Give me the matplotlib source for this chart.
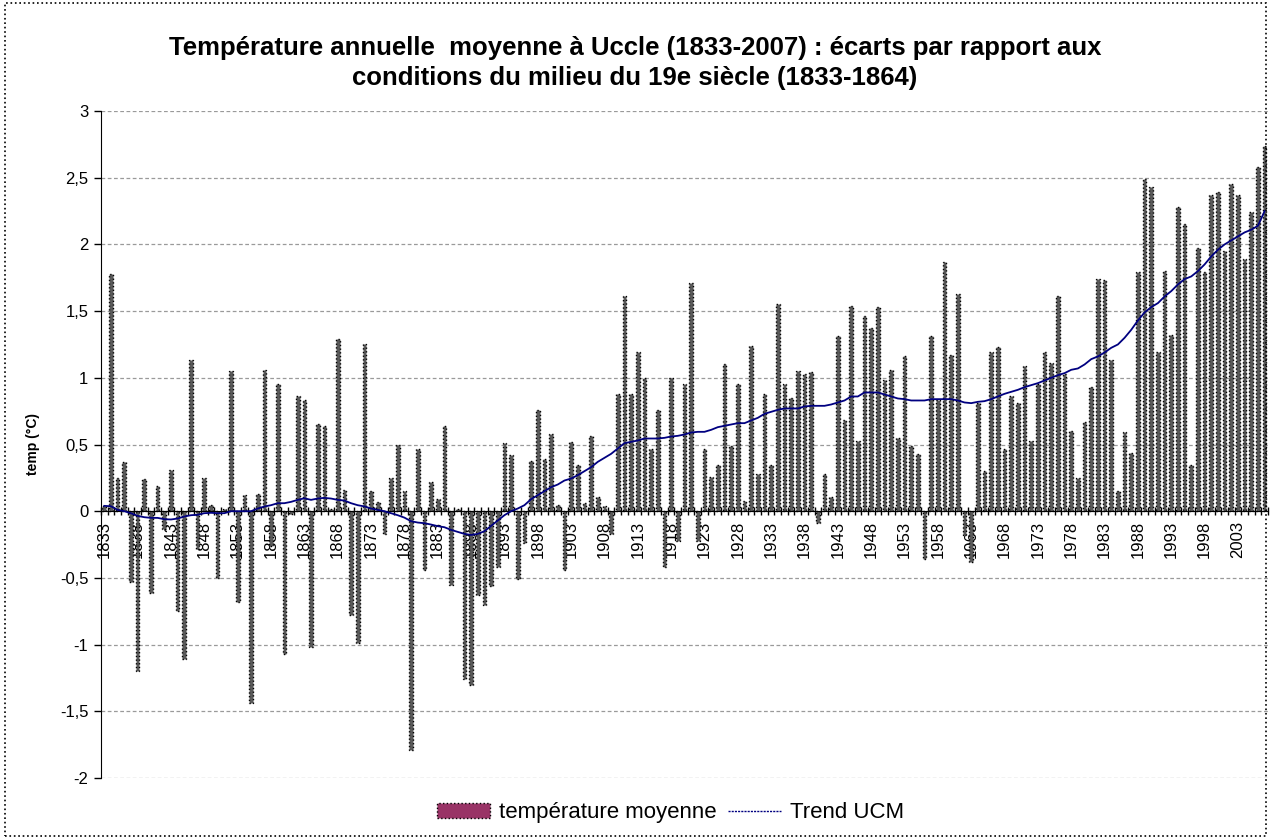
import numpy as np
import matplotlib
matplotlib.use("Agg")
import matplotlib.pyplot as plt
from matplotlib.patches import Rectangle, Patch
from matplotlib.lines import Line2D
from matplotlib.ticker import FuncFormatter

plt.rcParams["font.family"] = ["Liberation Sans", "DejaVu Sans"]

#Data (deviation in °C vs 1833-1864)
years = np.arange(1833, 2008)

temp_anomaly = [
    0.04, 1.78, 0.25, 0.37, -0.53, -1.20, 0.24, -0.61, 0.19, -0.13,   # 1833-1842
    0.31, -0.75, -1.11, 1.13, -0.28, 0.25, 0.05, -0.50, 0.02, 1.05,   # 1843-1852
    -0.68, 0.12, -1.44, 0.13, 1.06, -0.26, 0.95, -1.07, -0.02, 0.86,  # 1853-1862
    0.83, -1.02, 0.65, 0.64, 0.02, 1.29, 0.16, -0.78, -0.99, 1.25,    # 1863-1872
    0.15, 0.07, -0.17, 0.25, 0.50, 0.15, -1.79, 0.47, -0.44, 0.22,    # 1873-1882
    0.09, 0.64, -0.55, 0.02, -1.26, -1.30, -0.63, -0.70, -0.56, -0.42,  # 1883-1892
    0.51, 0.42, -0.51, -0.24, 0.38, 0.76, 0.39, 0.58, 0.05, -0.44,    # 1893-1902
    0.52, 0.35, 0.06, 0.56, 0.11, 0.04, -0.17, 0.88, 1.61, 0.88,      # 1903-1912
    1.19, 1.00, 0.47, 0.76, -0.42, 1.00, -0.22, 0.95, 1.71, -0.22,    # 1913-1922
    0.47, 0.26, 0.35, 1.10, 0.49, 0.95, 0.08, 1.24, 0.28, 0.88,       # 1923-1932
    0.35, 1.55, 0.95, 0.85, 1.05, 1.03, 1.04, -0.09, 0.28, 0.11,      # 1933-1942
    1.31, 0.68, 1.54, 0.53, 1.46, 1.37, 1.53, 0.98, 1.06, 0.55,       # 1943-1952
    1.16, 0.49, 0.43, -0.36, 1.31, 0.83, 1.87, 1.17, 1.63, -0.18,     # 1953-1962
    -0.38, 0.81, 0.30, 1.19, 1.23, 0.47, 0.86, 0.81, 1.09, 0.53,      # 1963-1972
    0.95, 1.19, 1.11, 1.61, 1.03, 0.60, 0.25, 0.67, 0.93, 1.74,       # 1973-1982
    1.73, 1.13, 0.15, 0.59, 0.44, 1.79, 2.49, 2.43, 1.19, 1.80,       # 1983-1992
    1.32, 2.28, 2.15, 0.35, 1.97, 1.79, 2.37, 2.39, 1.95, 2.45,       # 1993-2002
    2.37, 1.89, 2.24, 2.58, 2.74,                                     # 2003-2007
]

trend_ucm = [
    0.040, 0.037, 0.010, 0.000, -0.015, -0.035, -0.045, -0.050, -0.050, -0.060,
    -0.062, -0.055, -0.040, -0.030, -0.027, -0.015, -0.012, -0.015, -0.015, 0.000,
    0.000, 0.000, 0.000, 0.020, 0.035, 0.045, 0.060, 0.060, 0.070, 0.085,
    0.097, 0.085, 0.095, 0.100, 0.095, 0.085, 0.080, 0.060, 0.045, 0.036,
    0.020, 0.010, 0.000, -0.015, -0.030, -0.048, -0.075, -0.085, -0.090, -0.100,
    -0.112, -0.120, -0.140, -0.155, -0.170, -0.178, -0.170, -0.150, -0.110, -0.070,
    -0.030, 0.000, 0.020, 0.045, 0.090, 0.120, 0.150, 0.180, 0.200, 0.230,
    0.245, 0.270, 0.300, 0.330, 0.370, 0.400, 0.430, 0.470, 0.510, 0.520,
    0.530, 0.545, 0.545, 0.545, 0.550, 0.560, 0.565, 0.575, 0.590, 0.595,
    0.595, 0.610, 0.630, 0.640, 0.650, 0.660, 0.660, 0.680, 0.700, 0.730,
    0.745, 0.760, 0.770, 0.770, 0.770, 0.785, 0.790, 0.790, 0.790, 0.800,
    0.815, 0.830, 0.860, 0.860, 0.890, 0.890, 0.890, 0.875, 0.860, 0.845,
    0.840, 0.830, 0.830, 0.830, 0.840, 0.840, 0.840, 0.840, 0.830, 0.815,
    0.810, 0.820, 0.825, 0.840, 0.860, 0.880, 0.895, 0.910, 0.930, 0.945,
    0.960, 0.980, 1.000, 1.020, 1.035, 1.060, 1.070, 1.100, 1.140, 1.160,
    1.190, 1.225, 1.250, 1.300, 1.360, 1.430, 1.490, 1.530, 1.560, 1.610,
    1.650, 1.700, 1.740, 1.760, 1.800, 1.850, 1.910, 1.960, 2.000, 2.030,
    2.060, 2.090, 2.110, 2.140, 2.250,
]

label_years = list(range(1833, 2008, 5))
y_ticks = [-2, -1.5, -1, -0.5, 0, 0.5, 1, 1.5, 2, 2.5, 3]

title_text = ("Température annuelle  moyenne à Uccle (1833-2007) : écarts par rapport aux\n"
              "conditions du milieu du 19e siècle (1833-1864)")

fig = plt.figure(figsize=(12.7, 8.39), dpi=100)
ax = fig.add_axes([0.0795, 0.0727, 0.9189, 0.795])

#bars + trend
ax.bar(years, temp_anomaly, width=0.55, color="#5a5a5a", edgecolor="black",
       linewidth=1.0, linestyle=":", zorder=2)
ax.plot(years, trend_ucm, color="#000080", linewidth=1.3, zorder=3)

ax.set_xlim(1832.5, 2007.5)
ax.set_ylim(-2, 3)
ax.set_yticks(y_ticks)
ax.yaxis.set_major_formatter(FuncFormatter(lambda v, p: f"{v:g}".replace(".", ",")))
ax.grid(axis="y", color="#9a9a9a", linestyle=(0, (3, 2)), linewidth=0.9)
ax.set_axisbelow(True)

#category axis sits on zero
ax.spines["bottom"].set_position(("data", 0))
ax.spines["top"].set_visible(False)
ax.spines["right"].set_visible(False)

ax.set_xticks(label_years)
ax.set_xticklabels([str(y) for y in label_years], rotation=90)
ax.set_xticks(np.arange(1832.5, 2008, 1), minor=True)
ax.tick_params(axis="x", which="major", length=0, pad=7, labelsize=12)
ax.tick_params(axis="x", which="minor", direction="inout", length=6, width=1)
ax.tick_params(axis="y", direction="out", length=5, width=1, labelsize=12, pad=4)

fig.text(0.5, 0.957, title_text, ha="center", va="top", fontsize=18.5,
         fontweight="bold", linespacing=1.3)
fig.text(0.026, 0.4708, "temp (°C)", rotation=90, ha="center", va="center",
         fontsize=10, fontweight="bold")

#legend (Excel shows the bar series in maroon)
handles = [
    Patch(facecolor="#993366", edgecolor="black", linestyle=":", linewidth=1.0),
    Line2D([], [], color="#000080", linewidth=1.0, linestyle=(0, (1.5, 0.8))),
]
fig.legend(handles, ["température moyenne", "Trend UCM"], loc="center",
           bbox_to_anchor=(0.528, 0.031), ncol=2, frameon=False,
           fontsize=16, handlelength=2.4, handleheight=0.7,
           columnspacing=0.5, handletextpad=0.4)

#chart border
fig.add_artist(Rectangle((0.004, 0.004), 0.993, 0.992, transform=fig.transFigure,
                         fill=False, edgecolor="black", linestyle=":", linewidth=1.2))

fig.savefig("out.png", dpi=100)
